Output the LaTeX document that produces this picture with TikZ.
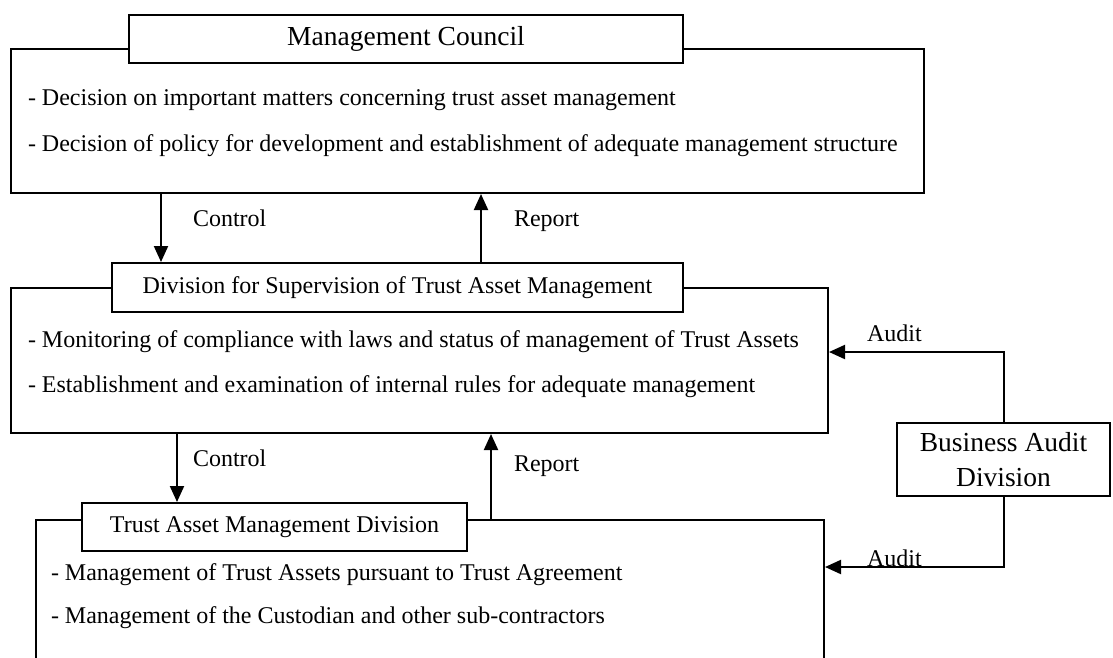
\documentclass[tikz,border=0pt]{standalone}
\usepackage{fontspec}
\setmainfont{Liberation Serif}
\usetikzlibrary{arrows.meta}
\begin{document}
\begin{tikzpicture}[x=1pt,y=-1pt,
  line width=2pt,
  bigbox/.style={draw, fill=white, rectangle, inner sep=0pt, anchor=north west},
  titlebox/.style={draw, fill=white, rectangle, inner sep=0pt, font=\fontsize{24}{28}\selectfont},
  bodytext/.style={anchor=west, inner sep=0pt, font=\fontsize{24}{28}\selectfont},
  lbl/.style={anchor=base west, inner sep=0pt, font=\fontsize{24}{28}\selectfont},
  arr/.style={-{Triangle[length=16pt,width=14pt]}}]
\useasboundingbox (0,0) rectangle (1113,657);
\clip (0,0) rectangle (1113,657);
% Management Council
\node[bigbox, minimum width=913pt, minimum height=144pt] (mc) at (10,48) {};
\node[titlebox, minimum width=554pt, minimum height=48pt, font=\fontsize{27.5}{30}\selectfont] (mct) at (406,39) {Management Council};
\node[bodytext] (mc1) at (27,100) {- Decision on important matters concerning trust asset management};
\node[bodytext] (mc2) at (27,146) {- Decision of policy for development and establishment of adequate management structure};
% Supervision division
\node[bigbox, minimum width=817pt, minimum height=145pt] (sup) at (10,287) {};
\node[titlebox, minimum width=571pt, minimum height=49pt] (supt) at (397.5,287.5) {Division for Supervision of Trust Asset Management};
\node[bodytext] (sup1) at (27,342) {- Monitoring of compliance with laws and status of management of Trust Assets};
\node[bodytext] (sup2) at (27,387) {- Establishment and examination of internal rules for adequate management};
% Trust Asset Management Division
\node[bigbox, minimum width=788pt, minimum height=200pt] (tam) at (35,519) {};
\node[titlebox, minimum width=385pt, minimum height=48pt] (tamt) at (274.5,527) {Trust Asset Management Division};
\node[bodytext] (tam1) at (50,575) {- Management of Trust Assets pursuant to Trust Agreement};
\node[bodytext] (tam2) at (50,618) {- Management of the Custodian and other sub-contractors};
% Business Audit Division
\node[draw, fill=white, rectangle, inner sep=0pt, minimum width=213pt, minimum height=73pt, align=center, font=\fontsize{27.5}{35}\selectfont] (bad) at (1003.5,459.5) {Business Audit\\Division};
% helper coordinates
\coordinate (c1) at (161,0);
\coordinate (r1) at (481,0);
\coordinate (c2) at (177,0);
\coordinate (r2) at (491,0);
\coordinate (au1) at (0,352);
\coordinate (au2) at (0,567);
% connectors
\draw[arr] (c1 |- mc.south) -- (c1 |- supt.north);
\draw[arr] (r1 |- supt.north) -- (r1 |- mc.south);
\draw[arr] (c2 |- sup.south) -- (c2 |- tamt.north);
\draw[arr] (r2 |- tam.north) -- (r2 |- sup.south);
\draw[arr] (bad.north) |- (sup.east |- au1);
\draw[arr] (bad.south) |- (tam.east |- au2);
% labels
\node[lbl] (lc1) at (192,226) {Control};
\node[lbl] (lr1) at (513,226) {Report};
\node[lbl] (lc2) at (192,466) {Control};
\node[lbl] (lr2) at (513,471) {Report};
\node[lbl] (la1) at (866,341) {Audit};
\node[lbl] (la2) at (866,566) {Audit};
\end{tikzpicture}
\end{document}
